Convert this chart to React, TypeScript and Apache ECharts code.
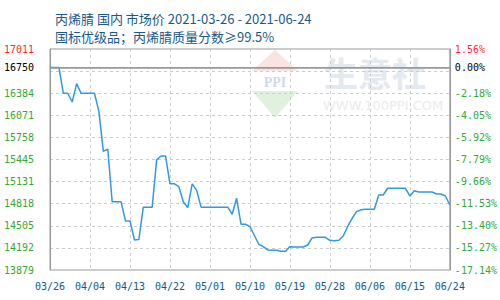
import React, { useEffect, useRef } from "react";
import * as echarts from "echarts";

const titleLine1 = "丙烯腈 国内 市场价 2021-03-26 - 2021-06-24";
const titleLine2 = "国标优级品；丙烯腈质量分数≥99.5%";

const basePrice = 16750;
const yMin = 13879;
const yMax = 17011;

const leftTickValues = [13879, 14192.2, 14505.4, 14818.6, 15131.8, 15445, 15758.2, 16071.4, 16384.6, 16697.8, 17011];
const leftLabelValues = [13879, 14192.2, 14505.4, 14818.6, 15131.8, 15445, 15758.2, 16071.4, 16384.6, 16750, 17011];
const leftLabels = ["13879", "14192", "14505", "14818", "15131", "15445", "15758", "16071", "16384", "16750", "17011"];
const rightLabels = ["-17.14%", "-15.27%", "-13.40%", "-11.53%", "-9.66%", "-7.79%", "-5.92%", "-4.05%", "-2.18%", "0.00%", "1.56%"];

const prices = [
  16750, 16750, 16750, 16384, 16384, 16260, 16520, 16384, 16384, 16384,
  16384, 16130, 15560, 15590, 14845, 14845, 14845, 14574, 14574, 14305,
  14310, 14770, 14770, 14770, 15440, 15495, 15495, 15100, 15100, 15060,
  14847, 14762, 15100, 15010, 14770, 14770, 14770, 14770, 14770, 14770,
  14770, 14670, 14895, 14527, 14527, 14493, 14368, 14244, 14210, 14163,
  14159, 14159, 14145, 14145, 14210, 14205, 14205, 14205, 14233, 14333,
  14342, 14342, 14342, 14300, 14295, 14300, 14361, 14496, 14609, 14706,
  14733, 14740, 14740, 14740, 14942, 14942, 15037, 15037, 15037, 15037,
  15037, 14928, 15003, 14985, 14985, 14985, 14985, 14956, 14956, 14928,
  14800,
];

function buildDates(): string[] {
  const out: string[] = [];
  const start = new Date(2021, 2, 26);
  for (let i = 0; i < prices.length; i++) {
    const d = new Date(start.getFullYear(), start.getMonth(), start.getDate() + i);
    const mm = String(d.getMonth() + 1).padStart(2, "0");
    const dd = String(d.getDate()).padStart(2, "0");
    out.push(mm + "/" + dd);
  }
  return out;
}
const dates = buildDates();

const toPct = (v: number) => ((v - basePrice) / basePrice) * 100;

const GREEN = "#34a834";
const RED = "#ff2b2b";
const AXIS_FONT = "DejaVu Sans Mono";

export default function App() {
  const ref = useRef<HTMLDivElement>(null);
  useEffect(() => {
    document.body.style.margin = "0";
    if (!ref.current) return;
    const chart = echarts.init(ref.current, null, { renderer: "svg" });
    const labelIndexOf = (vals: number[], v: number) => {
      let best = 0;
      for (let i = 0; i < vals.length; i++) {
        if (Math.abs(vals[i] - v) < Math.abs(vals[best] - v)) best = i;
      }
      return best;
    };
    const colorFor = (i: number) => (i === leftLabels.length - 1 ? RED : i === leftLabels.length - 2 ? "#000" : GREEN);
    const rightLabelValues = leftLabelValues.map(toPct);
    const rightTickValues = leftTickValues.map(toPct);
    chart.setOption({
      animation: false,
      title: [
        {
          text: titleLine1,
          left: 50,
          top: 7,
          textStyle: { fontFamily: "Noto Sans CJK SC", fontSize: 13, fontWeight: "normal", color: "#1a5a8a" },
        },
        {
          text: titleLine2,
          left: 50,
          top: 25,
          textStyle: { fontFamily: "Noto Sans CJK SC", fontSize: 13, fontWeight: "normal", color: "#1a5a8a" },
        },
      ],
      grid: { left: 50, right: 50, top: 49, bottom: 30, show: true, borderColor: "#999", borderWidth: 1 },
      graphic: [
        { type: "polygon", z: 0, shape: { points: [[275, 50], [252, 71], [298, 71]] }, style: { fill: "#fae3e1" } },
        { type: "polygon", z: 0, shape: { points: [[252, 91], [298, 91], [275, 118]] }, style: { fill: "#e0f2dd" } },
        {
          type: "text", z: 0, x: 275, y: 75,
          style: { text: "PPI", fill: "#d0d8ee", font: "bold 14px 'Liberation Serif'", textAlign: "center", letterSpacing: 4 },
        },
        {
          type: "text", z: 0, x: 324, y: 55,
          style: { text: "生意社", fill: "#e4e8ef", font: "bold 34px 'Noto Sans CJK SC'", letterSpacing: 9 },
        },
        {
          type: "text", z: 0, x: 323, y: 99,
          style: { text: "WWW.100PPI.COM", fill: "#ebebeb", font: "13px 'DejaVu Sans'", letterSpacing: 0 },
        },
      ],
      xAxis: {
        type: "category",
        data: dates,
        boundaryGap: false,
        axisLine: { lineStyle: { color: "#999" } },
        axisTick: { show: false },
        axisLabel: { interval: 8, margin: 11, color: "#0e5a8c", fontFamily: AXIS_FONT, fontSize: 10 },
        splitLine: { show: true, interval: 8, lineStyle: { color: "#ccc", type: [3, 3] } },
      },
      yAxis: [
        {
          type: "value",
          min: yMin,
          max: yMax,
          axisLine: { show: true, lineStyle: { color: "#999" } },
          axisTick: { show: false, customValues: leftTickValues },
          axisLabel: {
            customValues: leftLabelValues,
            margin: 16,
            fontFamily: AXIS_FONT,
            fontSize: 10,
            formatter: (v: number) => leftLabels[labelIndexOf(leftLabelValues, v)],
            color: (v: number) => colorFor(labelIndexOf(leftLabelValues, v)),
          },
          splitLine: { show: true, lineStyle: { color: "#ccc", type: [3, 3] } },
        },
        {
          type: "value",
          min: toPct(yMin),
          max: toPct(yMax),
          position: "right",
          axisLine: { show: true, lineStyle: { color: "#999" } },
          axisTick: { show: false, customValues: rightTickValues },
          axisLabel: {
            customValues: rightLabelValues,
            margin: 5,
            fontFamily: AXIS_FONT,
            fontSize: 10,
            formatter: (v: number) => rightLabels[labelIndexOf(rightLabelValues, v)],
            color: (v: number) => colorFor(labelIndexOf(rightLabelValues, v)),
          },
          splitLine: { show: false },
        },
      ],
      series: [
        {
          type: "line",
          data: prices,
          symbol: "none",
          lineStyle: { color: "#3399dd", width: 1.5 },
          itemStyle: { color: "#3399dd" },
          markLine: {
            silent: true,
            symbol: ["none", "none"],
            label: { show: false },
            lineStyle: { color: "#999", type: "solid", width: 1.5 },
            data: [{ yAxis: basePrice }],
          },
        },
      ],
    });
    return () => chart.dispose();
  }, []);
  return <div ref={ref} style={{ width: 500, height: 300 }} />;
}
